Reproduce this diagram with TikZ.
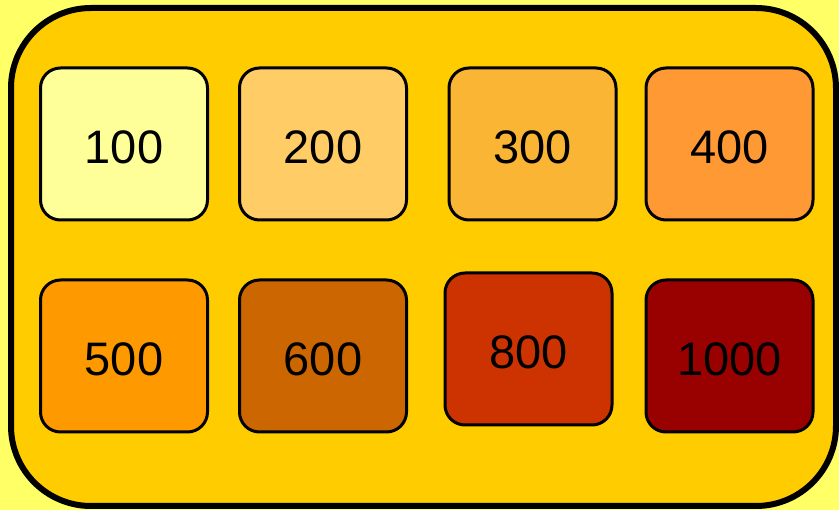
\documentclass[tikz,border=0pt]{standalone}
\usepackage{fontspec}
\setmainfont{Liberation Sans}
\definecolor{bgyellow}{HTML}{FFFF66}
\definecolor{outerfill}{HTML}{FFCC00}
\definecolor{cA}{HTML}{FFFF99}
\definecolor{cB}{HTML}{FFCC66}
\definecolor{cC}{HTML}{FBB534}
\definecolor{cD}{HTML}{FF9933}
\definecolor{cE}{HTML}{FF9900}
\definecolor{cF}{HTML}{CC6600}
\definecolor{cG}{HTML}{CC3300}
\definecolor{cH}{HTML}{990000}
\tikzset{
  swatch/.style={draw=black, line width=3pt, rounded corners=20pt,
    minimum width=167pt, minimum height=152pt, inner sep=0pt,
    text height=39pt, text depth=0pt,
    font=\fontsize{47}{56}\selectfont, text=black},
}
\begin{document}
\begin{tikzpicture}[x=1pt,y=-1pt]
\fill[bgyellow] (0,0) rectangle (839,510);
\useasboundingbox (0,0) rectangle (839,510);
\draw[fill=outerfill, line width=6pt, rounded corners=80pt] (11,8) rectangle (836,506);
\node[swatch, fill=cA] (n100) at (124,144) {100};
\node[swatch, fill=cB] (n200) at (323,144) {200};
\node[swatch, fill=cC] (n300) at (532.5,144) {300};
\node[swatch, fill=cD] (n400) at (729.5,144) {400};
\node[swatch, fill=cE] (n500) at (124,356) {500};
\node[swatch, fill=cF] (n600) at (323,356) {600};
\node[swatch, fill=cG] (n800) at (528.5,349) {800};
\node[swatch, fill=cH] (n1000) at (729.5,356) {1000};
\end{tikzpicture}
\end{document}
